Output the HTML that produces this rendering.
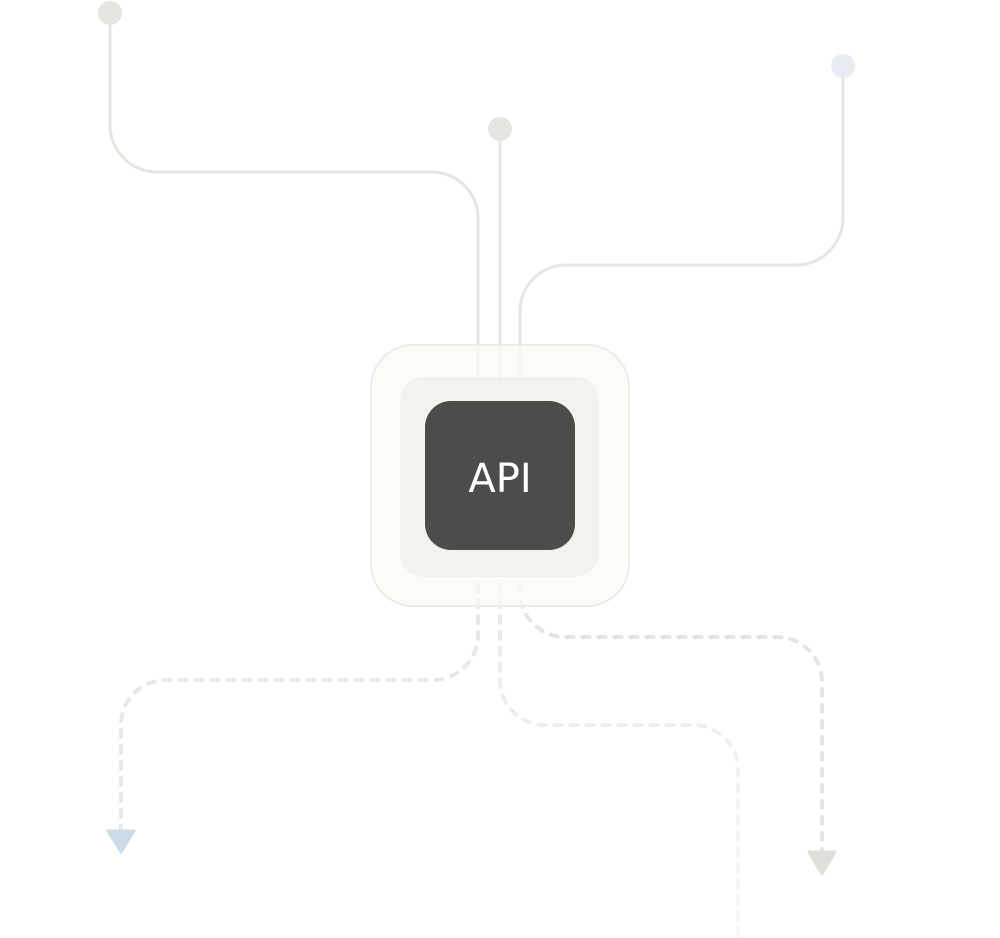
<!DOCTYPE html>
<html><head><meta charset="utf-8"><style>
html,body{margin:0;padding:0;background:#fff;width:1000px;height:938px;overflow:hidden}
</style></head><body>
<svg width="1000" height="938" viewBox="0 0 1000 938" xmlns="http://www.w3.org/2000/svg">
<defs>
<linearGradient id="fade" x1="0" y1="0" x2="0" y2="1">
<stop offset="0" stop-color="#e8e8e4"/><stop offset="1" stop-color="#f7f7f5"/>
</linearGradient>
</defs>
<g fill="none" stroke-width="3" stroke-linecap="round">
<path d="M110 14 V125 A47 47 0 0 0 157 172 H432 A46 46 0 0 1 478 218 V402" stroke="#e6e6e0"/>
<path d="M500 129 V402" stroke="#e6e6e2"/>
<path d="M843 66 V218 A47 47 0 0 1 796 265 H566 A46 46 0 0 0 520 311 V402" stroke="#e4e5e5"/>
</g>
<g fill="none" stroke-width="4" stroke-linecap="round" stroke-dasharray="7 9">
<path d="M478 552 V635 A45 45 0 0 1 433 680 H166 A45 45 0 0 0 121 725 V830" stroke="#e4e9ed"/>
<path d="M500 552 V680 A45 45 0 0 0 545 725 H693 A45 45 0 0 1 738 770 V938" stroke="url(#fade)"/>
<path d="M520 552 V592 A45 45 0 0 0 565 637 H777 A45 45 0 0 1 822 682 V850" stroke="#e5e5e1"/>
</g>
<rect x="371" y="345" width="258" height="261" rx="42" fill="#f9f9f6" fill-opacity="0.75" stroke="#ececea" stroke-width="2"/>
<rect x="400" y="377" width="199" height="200" rx="24" fill="#f1f1ea" fill-opacity="0.8"/>
<circle cx="110" cy="13" r="12" fill="#e6e6e0"/>
<circle cx="500" cy="129" r="12" fill="#e6e6e2"/>
<circle cx="843" cy="66" r="12" fill="#e6ecf1"/>
<rect x="425" y="401" width="150" height="149" rx="26" fill="#4d4c4a"/>
<text x="500" y="492" text-anchor="middle" font-family="'DejaVu Sans','Liberation Sans',sans-serif" font-size="40" fill="#fff">API</text>
<path d="M108 831 L134 831 L121 852 Z" fill="#cbdbe7" stroke="#cbdbe7" stroke-width="3" stroke-linejoin="round"/>
<path d="M809 852 L835 852 L822 874 Z" fill="#e0e0da" stroke="#e0e0da" stroke-width="3" stroke-linejoin="round"/>
</svg>
</body></html>
